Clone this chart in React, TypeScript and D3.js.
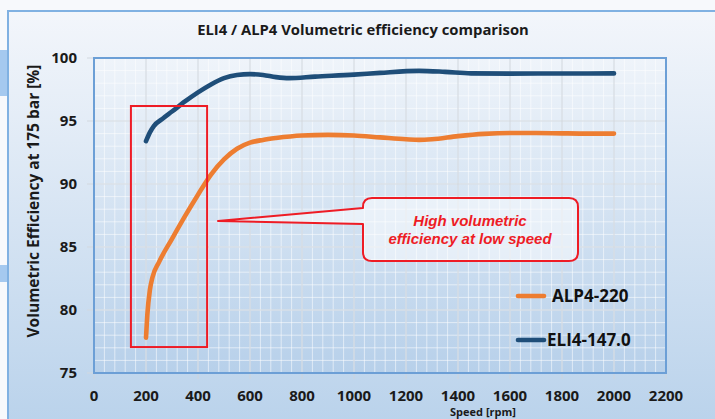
import React from "react";
import * as d3 from "d3";

const chartTitle = "ELI4 / ALP4 Volumetric efficiency comparison";
const yAxisTitle = "Volumetric Efficiency at 175 bar [%]";
const xAxisTitle = "Speed [rpm]";

const xTicks = [0, 200, 400, 600, 800, 1000, 1200, 1400, 1600, 1800, 2000, 2200];
const yTicks = [75, 80, 85, 90, 95, 100];

const alpSpeed = [200, 205, 215, 225, 250, 300, 350, 400, 450, 500, 550, 600, 650, 700, 800, 900, 1000, 1100, 1200, 1250, 1300, 1400, 1500, 1600, 1700, 1800, 1900, 2000];
const alpEff = [77.8, 79.6, 81.6, 82.6, 83.8, 85.65, 87.45, 89.15, 90.75, 91.95, 92.8, 93.28, 93.5, 93.65, 93.85, 93.9, 93.85, 93.7, 93.55, 93.5, 93.55, 93.8, 93.98, 94.05, 94.05, 94.02, 94.0, 94.0];

const eliSpeed = [200, 215, 230, 265, 300, 350, 400, 450, 500, 550, 600, 650, 700, 750, 850, 1000, 1100, 1250, 1350, 1450, 1600, 1800, 2000];
const eliEff = [93.4, 94.1, 94.6, 95.2, 95.75, 96.55, 97.27, 97.9, 98.4, 98.65, 98.72, 98.65, 98.48, 98.4, 98.52, 98.68, 98.82, 98.98, 98.9, 98.78, 98.76, 98.77, 98.78];

const seriesNames = ["ALP4-220", "ELI4-147.0"];
const seriesColors = ["#ed7d31", "#1f4e79"];

const calloutLines = ["High volumetric", "efficiency at low speed"];
// highlight box in data units: [speedMin, speedMax], [effMin, effMax]
const boxSpeed = [142, 435];
const boxEff = [77.06, 96.19];

export default function App() {
  const W = 715, H = 419;
  const x = d3.scaleLinear().domain([0, 2200]).range([94, 666]);
  const y = d3.scaleLinear().domain([75, 100]).range([373, 58]);
  const [x0, x1] = x.range();
  const [y0, y1] = [y(100), y(75)];

  const line = d3
    .line<[number, number]>()
    .x((d) => x(d[0]))
    .y((d) => y(d[1]))
    .curve(d3.curveMonotoneX);

  const alp: [number, number][] = alpSpeed.map((s, i) => [s, alpEff[i]]);
  const eli: [number, number][] = eliSpeed.map((s, i) => [s, eliEff[i]]);

  const minorX = d3.range(0, 2201, 40);
  const minorY = d3.range(75, 100.01, 1);

  // callout geometry
  const cx0 = 363, cx1 = 578, cy0 = 198, cy1 = 261, r = 9;
  const tipX = 218, tipY = 221, wTop = 208, wBot = 224;
  const calloutPath = [
    `M${cx0 + r},${cy0}`,
    `H${cx1 - r}`,
    `Q${cx1},${cy0} ${cx1},${cy0 + r}`,
    `V${cy1 - r}`,
    `Q${cx1},${cy1} ${cx1 - r},${cy1}`,
    `H${cx0 + r}`,
    `Q${cx0},${cy1} ${cx0},${cy1 - r}`,
    `V${wBot}`,
    `L${tipX},${tipY}`,
    `L${cx0},${wTop}`,
    `V${cy0 + r}`,
    `Q${cx0},${cy0} ${cx0 + r},${cy0}`,
    "Z",
  ].join(" ");

  const font = "'Open Sans', 'Noto Sans', sans-serif";

  return (
    <svg
      width={W}
      height={H}
      style={{ position: "fixed", left: 0, top: 0, display: "block" }}
      fontFamily={font}
    >
      <defs>
        <linearGradient id="bg" x1="0" y1="0" x2="0" y2="1">
          <stop offset="0" stopColor="#f3f6fb" />
          <stop offset="1" stopColor="#b9d2eb" />
        </linearGradient>
        <linearGradient id="plotbg" x1="0" y1="0" x2="0" y2="1">
          <stop offset="0" stopColor="#eff4fa" />
          <stop offset="1" stopColor="#b7d0ea" />
        </linearGradient>
      </defs>
      <rect x={0} y={0} width={W} height={H} fill="#f7f9fc" />
      <rect x={8} y={11} width={W} height={H} fill="url(#bg)" />
      <rect x={0} y={50} width={8} height={46} fill="#a5c9ef" />
      <rect x={0} y={265} width={8} height={17} fill="#a5c9ef" />
      <path d={`M8,${H} V11 H${W}`} fill="none" stroke="#80b1e2" strokeWidth={2} />

      <text x={363} y={35} textAnchor="middle" fontSize={14.8} fontWeight="bold" fill="#1a1a1a">
        {chartTitle}
      </text>

      {/* plot area */}
      <rect x={x0} y={y0} width={x1 - x0} height={y1 - y0} fill="url(#plotbg)" />
      {minorX.map((v) => (
        <line key={"mx" + v} x1={x(v)} x2={x(v)} y1={y0} y2={y1} stroke="#ffffff" strokeOpacity={0.55} strokeWidth={1} />
      ))}
      {minorY.map((v) => (
        <line key={"my" + v} x1={x0} x2={x1} y1={y(v)} y2={y(v)} stroke="#ffffff" strokeOpacity={0.55} strokeWidth={1} />
      ))}
      {xTicks.map((v) => (
        <line key={"gx" + v} x1={x(v)} x2={x(v)} y1={y0} y2={y1 + 6} stroke="#cdd4dc" strokeWidth={1} />
      ))}
      {yTicks.map((v) => (
        <line key={"gy" + v} x1={x0 - 7} x2={x1} y1={y(v)} y2={y(v)} stroke="#d2d8df" strokeWidth={1} />
      ))}
      <rect x={x0} y={y0} width={x1 - x0} height={y1 - y0} fill="none" stroke="#6c9fd6" strokeWidth={2} />

      {/* axis labels */}
      {yTicks.map((v) => (
        <text key={"yl" + v} x={77} y={y(v) + 5} textAnchor="end" fontSize={15} fontWeight="bold" fill="#1a1a1a">
          {v}
        </text>
      ))}
      {xTicks.map((v) => (
        <text key={"xl" + v} x={x(v)} y={401} textAnchor="middle" fontSize={15} fontWeight="bold" fill="#1a1a1a">
          {v}
        </text>
      ))}
      <text
        transform={`translate(39,201) rotate(-90)`}
        textAnchor="middle"
        fontSize={15.5}
        fontWeight="bold"
        fill="#1a1a1a"
      >
        {yAxisTitle}
      </text>
      <text x={483} y={416} textAnchor="middle" fontSize={11} fontWeight="bold" fill="#1a1a1a">
        {xAxisTitle}
      </text>

      {/* series */}
      <path d={line(alp) || ""} fill="none" stroke={seriesColors[0]} strokeWidth={4.6} strokeLinecap="round" strokeLinejoin="round" />
      <path d={line(eli) || ""} fill="none" stroke={seriesColors[1]} strokeWidth={4.6} strokeLinecap="round" strokeLinejoin="round" />

      {/* highlight box */}
      <rect
        x={x(boxSpeed[0])}
        y={y(boxEff[1])}
        width={x(boxSpeed[1]) - x(boxSpeed[0])}
        height={y(boxEff[0]) - y(boxEff[1])}
        fill="none"
        stroke="#ee1c25"
        strokeWidth={2}
      />

      {/* callout */}
      <path d={calloutPath} fill="#ffffff" fillOpacity={0.5} stroke="#ee1c25" strokeWidth={2} strokeLinejoin="round" />
      {calloutLines.map((t, i) => (
        <text
          key={t}
          x={470}
          y={226 + i * 18}
          textAnchor="middle"
          fontFamily="'Liberation Sans', Arial, sans-serif"
          fontSize={15}
          fontWeight="bold"
          fontStyle="italic"
          fill="#ee1c25"
        >
          {t}
        </text>
      ))}

      {/* legend */}
      {seriesNames.map((n, i) => (
        <g key={n}>
          <line x1={518} x2={544} y1={296 + i * 44} y2={296 + i * 44} stroke={seriesColors[i]} strokeWidth={4.6} strokeLinecap="round" />
          <text x={i === 0 ? 552 : 547} y={302 + i * 44} fontSize={17} fontWeight="bold" fill="#111">
            {n}
          </text>
        </g>
      ))}
    </svg>
  );
}
